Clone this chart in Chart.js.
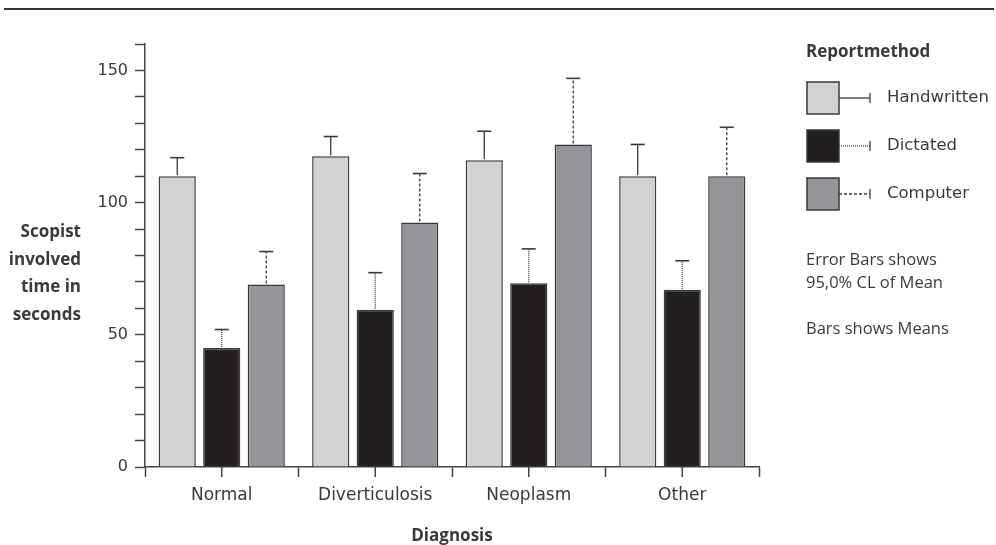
<!DOCTYPE html>
<html>
<head>
<meta charset="utf-8">
<title>Scopist involved time by diagnosis and report method</title>
<script src="https://cdn.jsdelivr.net/npm/chart.js@4.4.1/dist/chart.umd.min.js"></script>
<style>
  html, body { margin: 0; padding: 0; background: #ffffff; }
  #wrap { position: relative; width: 996px; height: 545px; }
</style>
</head>
<body>
<div id="wrap"><canvas id="chart"></canvas></div>
<script>
// Diagnosis categories on the x axis
const categories = ['Normal', 'Diverticulosis', 'Neoplasm', 'Other'];
// Report methods (one bar series each)
const seriesNames = ['Handwritten', 'Dictated', 'Computer'];
// Mean scopist involved time, seconds
const handwrittenMeans = [110, 117.5, 116, 110];
const dictatedMeans = [45, 59.5, 69.5, 67];
const computerMeans = [69, 92.5, 122, 110];
// Upper limit of the 95% confidence interval of the mean, seconds
const handwrittenUpper = [117, 125, 127, 122];
const dictatedUpper = [52, 73.5, 82.5, 78];
const computerUpper = [81.5, 111, 147, 128.5];
// Labelled y ticks
const yTickLabels = [0, 50, 100, 150];

const legendTitle = 'Reportmethod';
const yTitleLines = ['Scopist', 'involved', 'time in', 'seconds'];
const xTitle = 'Diagnosis';
const noteLines = ['Error Bars shows', '95,0% CL of Mean', '', 'Bars shows Means'];

const means = [handwrittenMeans, dictatedMeans, computerMeans];
const uppers = [handwrittenUpper, dictatedUpper, computerUpper];

const fills = ['#d1d2d4', '#231f20', '#939598'];
const edge = '#3a3a3a';
const ink = '#3a3a3a';
const whiskerDash = [[], [1, 1], [3, 2]];

const TXT = '"DejaVu Sans", sans-serif';
const HUM = '"Open Sans", sans-serif';

function drawWhisker(ctx, x1, y, x2, dash) {
  ctx.save();
  ctx.strokeStyle = edge;
  ctx.lineWidth = 1.3;
  ctx.setLineDash(dash);
  ctx.beginPath();
  ctx.moveTo(x1, y);
  ctx.lineTo(x2, y);
  ctx.stroke();
  ctx.setLineDash([]);
  ctx.beginPath();
  ctx.moveTo(x2, y - 5);
  ctx.lineTo(x2, y + 5);
  ctx.stroke();
  ctx.restore();
}

// Upper error whiskers, taken through the y scale
const errorBars = {
  id: 'errorBars',
  afterDatasetsDraw(chart) {
    const ctx = chart.ctx;
    const ys = chart.scales.y;
    chart.data.datasets.forEach((ds, di) => {
      const meta = chart.getDatasetMeta(di);
      meta.data.forEach((bar, i) => {
        const yTop = ys.getPixelForValue(uppers[di][i]);
        ctx.save();
        ctx.strokeStyle = edge;
        ctx.lineWidth = 1.3;
        ctx.setLineDash(whiskerDash[di]);
        ctx.beginPath();
        ctx.moveTo(bar.x, bar.y - 1);
        ctx.lineTo(bar.x, yTop);
        ctx.stroke();
        ctx.setLineDash([]);
        ctx.lineWidth = 1.6;
        ctx.beginPath();
        ctx.moveTo(bar.x - 7, yTop);
        ctx.lineTo(bar.x + 7, yTop);
        ctx.stroke();
        ctx.restore();
      });
    });
  }
};

// Rule, axis titles, centre ticks, legend and notes
const decorations = {
  id: 'decorations',
  afterDraw(chart) {
    const ctx = chart.ctx;
    const area = chart.chartArea;
    const xs = chart.scales.x;
    ctx.save();

    // top rule
    ctx.strokeStyle = '#333333';
    ctx.lineWidth = 2;
    ctx.beginPath();
    ctx.moveTo(4, 9);
    ctx.lineTo(994, 9);
    ctx.stroke();

    // tick marks at the category centres
    ctx.strokeStyle = '#444444';
    ctx.lineWidth = 1.5;
    categories.forEach((c, i) => {
      const x = xs.getPixelForValue(i);
      ctx.beginPath();
      ctx.moveTo(x, area.bottom);
      ctx.lineTo(x, area.bottom + 10);
      ctx.stroke();
    });

    ctx.fillStyle = ink;
    ctx.textBaseline = 'alphabetic';

    // y axis title, horizontal and right aligned
    ctx.font = 'bold 17px ' + HUM;
    ctx.textAlign = 'right';
    yTitleLines.forEach((t, i) => ctx.fillText(t, 81, 237 + i * 27.5));

    // x axis title
    ctx.textAlign = 'center';
    ctx.fillText(xTitle, (area.left + area.right) / 2, 541);

    // legend
    ctx.textAlign = 'left';
    ctx.fillText(legendTitle, 806, 57);
    seriesNames.forEach((name, i) => {
      const top = 82 + i * 48;
      ctx.fillStyle = fills[i];
      ctx.fillRect(807, top, 32, 32);
      ctx.strokeStyle = edge;
      ctx.lineWidth = 1.5;
      ctx.strokeRect(807, top, 32, 32);
      drawWhisker(ctx, 839, top + 16, 870, whiskerDash[i]);
      ctx.fillStyle = ink;
      ctx.font = '16.5px ' + TXT;
      ctx.textBaseline = 'middle';
      ctx.fillText(name, 887, top + 16);
      ctx.textBaseline = 'alphabetic';
    });

    // notes
    ctx.font = '16.5px ' + HUM;
    noteLines.forEach((t, i) => {
      if (t) ctx.fillText(t, 806, 265 + i * 23);
    });
    ctx.restore();
  }
};

const datasets = seriesNames.map((name, i) => ({
  label: name,
  data: means[i],
  backgroundColor: fills[i],
  borderColor: edge,
  borderWidth: 1.5,
  borderSkipped: 'bottom',
  categoryPercentage: 0.87,
  barPercentage: 0.835
}));

new Chart(document.getElementById('chart'), {
  type: 'bar',
  data: { labels: categories, datasets },
  options: {
    responsive: true,
    maintainAspectRatio: false,
    animation: false,
    layout: { padding: { left: 0, right: 237, top: 44, bottom: 0 } },
    plugins: {
      legend: { display: false },
      tooltip: { enabled: false }
    },
    scales: {
      x: {
        afterFit(scale) { scale.height = 78; },
        grid: {
          display: true,
          offset: true,
          drawOnChartArea: false,
          drawTicks: true,
          tickLength: 10,
          tickWidth: 1.5,
          color: '#444444'
        },
        border: { display: true, color: '#444444', width: 1.5 },
        ticks: {
          color: ink,
          padding: 8,
          font: { family: 'DejaVu Sans', size: 17 }
        }
      },
      y: {
        min: 0,
        max: 160,
        afterFit(scale) { scale.width = 145; },
        grid: {
          display: true,
          drawOnChartArea: false,
          drawTicks: true,
          tickLength: 10,
          tickWidth: 1.5,
          color: '#444444'
        },
        border: { display: true, color: '#444444', width: 1.5 },
        ticks: {
          stepSize: 10,
          color: ink,
          padding: 7,
          font: { family: 'DejaVu Sans', size: 16 },
          callback: (v) => (yTickLabels.includes(v) ? String(v) : '')
        }
      }
    }
  },
  plugins: [errorBars, decorations]
});
</script>
</body>
</html>
